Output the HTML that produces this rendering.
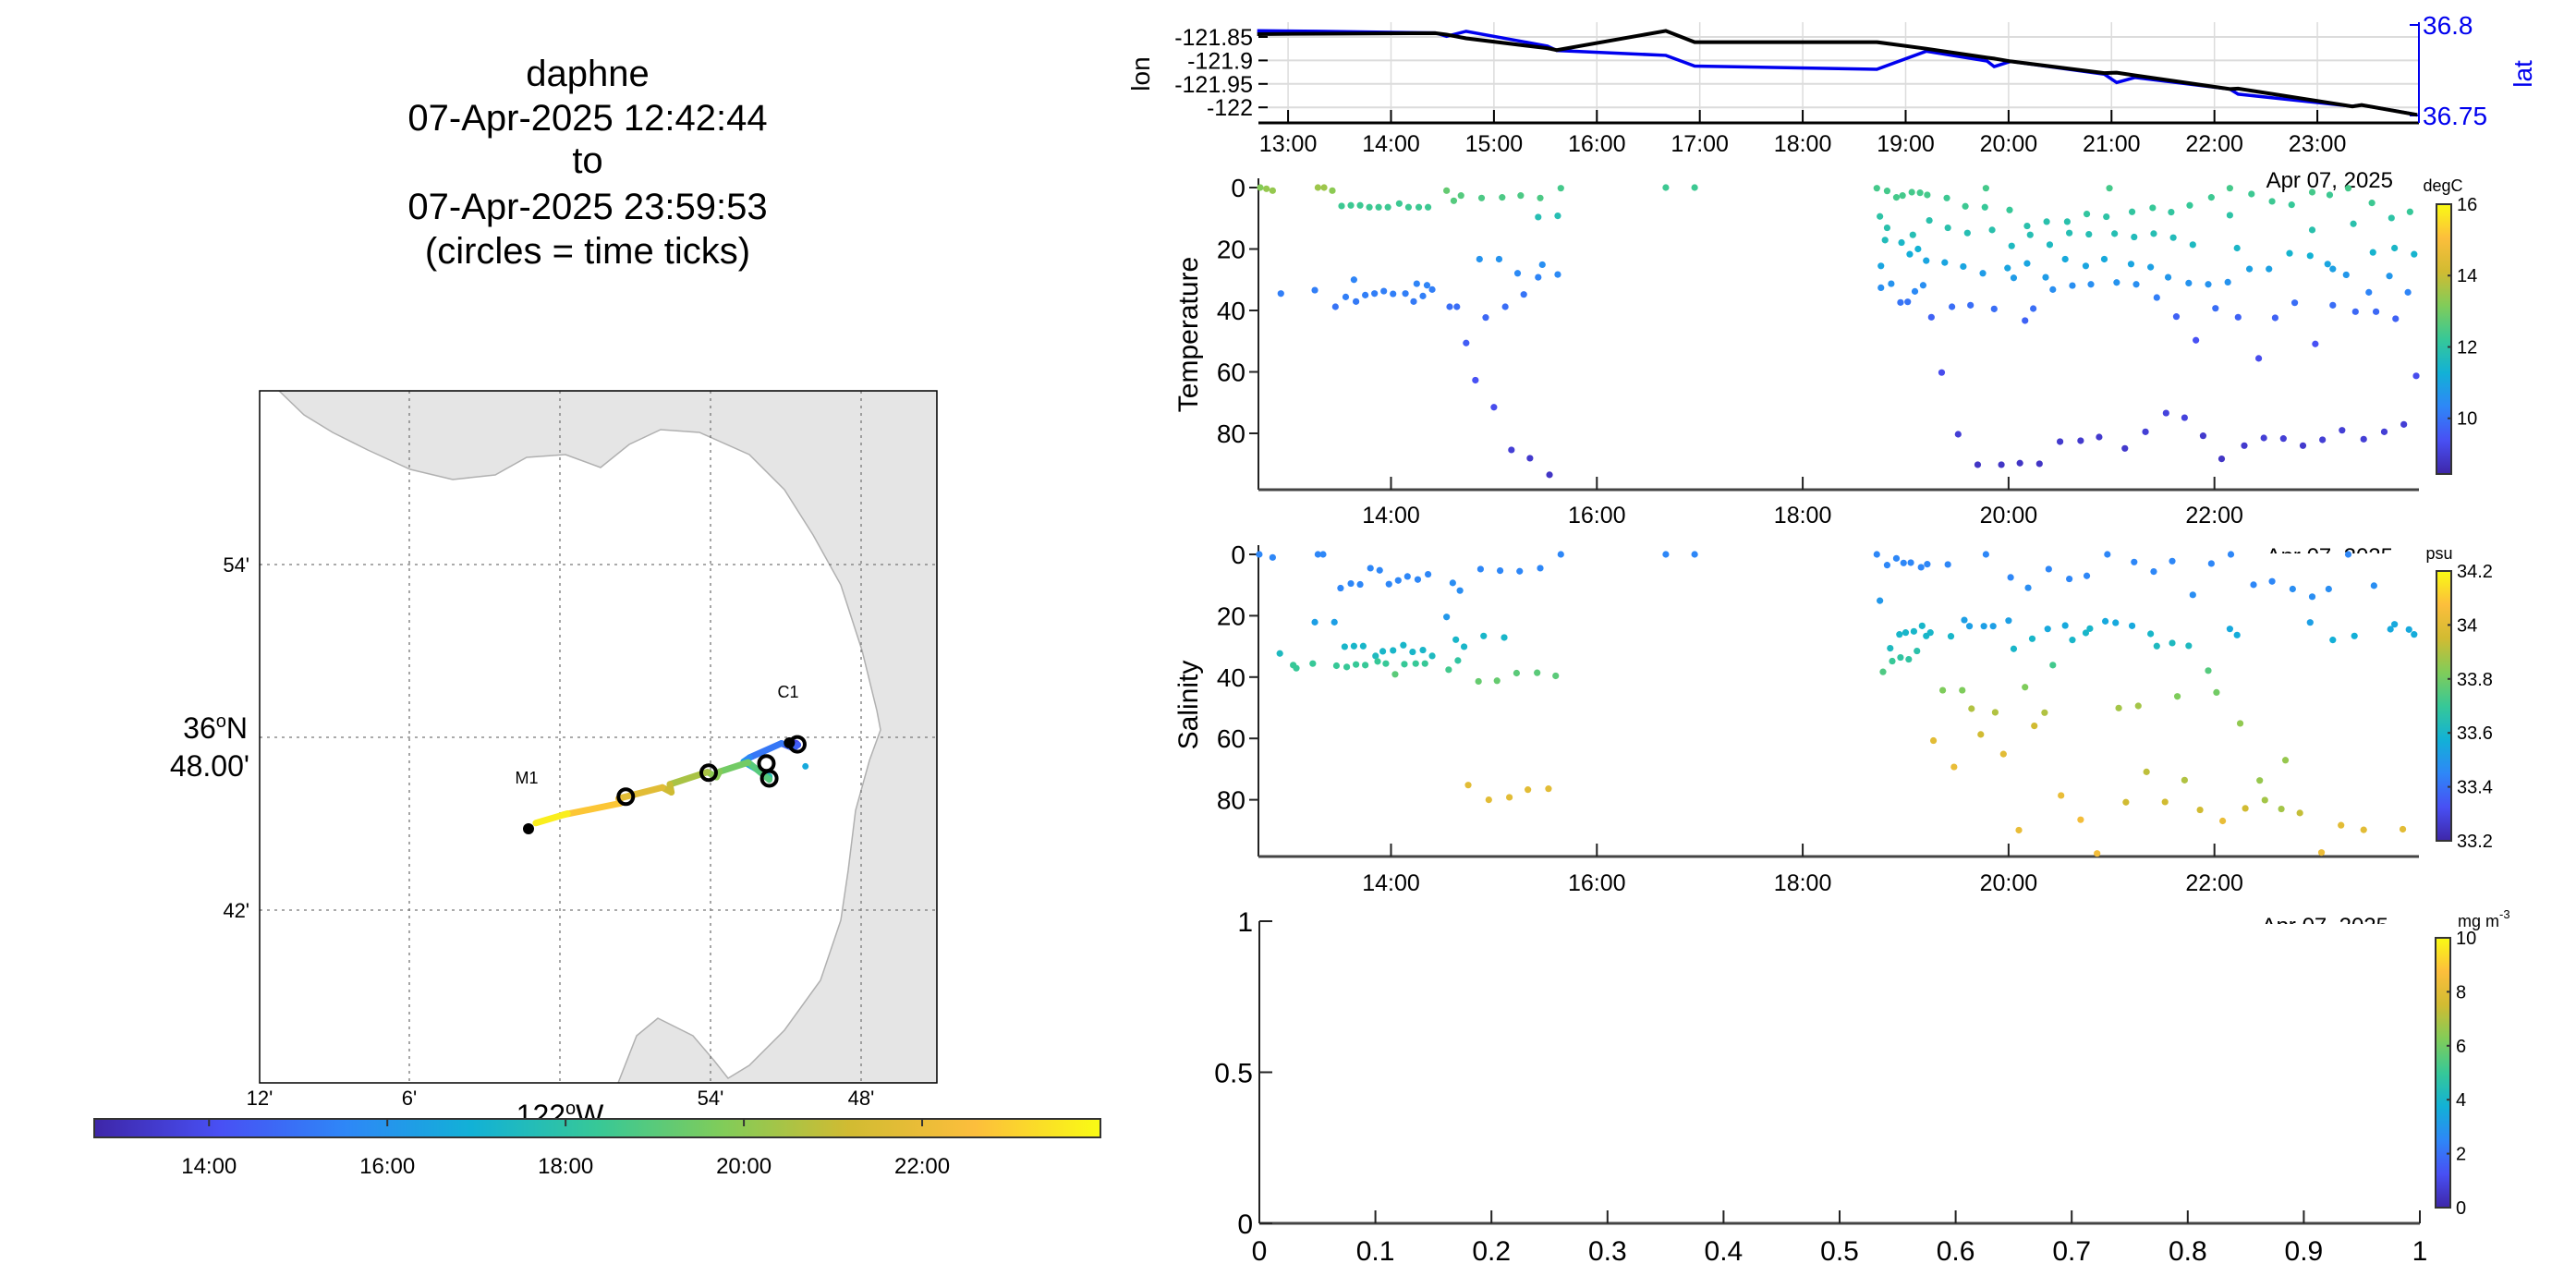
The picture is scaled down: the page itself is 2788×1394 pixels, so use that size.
<!DOCTYPE html>
<html><head><meta charset="utf-8"><style>
html,body{margin:0;padding:0;background:#fff;}
svg{display:block;font-family:"Liberation Sans",sans-serif;}
</style></head><body>
<svg id="fig" width="2788" height="1394" viewBox="0 0 2788 1394" xmlns="http://www.w3.org/2000/svg">
<defs>
<linearGradient id="parH" x1="0" x2="1" y1="0" y2="0"></linearGradient>
<linearGradient id="parV" x1="0" x2="0" y1="1" y2="0"></linearGradient>
<clipPath id="mapClip"><rect x="281" y="423" width="733" height="749"/></clipPath>
</defs>
<g font-size="40" text-anchor="middle" fill="#000">
<text x="636" y="93">daphne</text>
<text x="636" y="141">07-Apr-2025 12:42:44</text>
<text x="636" y="187">to</text>
<text x="636" y="237">07-Apr-2025 23:59:53</text>
<text x="636" y="285">(circles = time ticks)</text>
</g>
<g>
<rect x="281" y="423" width="733" height="749" fill="#fff"/>
<polygon clip-path="url(#mapClip)" fill="#e5e5e5" stroke="#b0b0b0" stroke-width="1.5" points="302,423 329,449 360,468 398,487 444,508 490,519 536,514 570,495 612,492 650,506 681,481 715,465 757,468 811,492 849,530 880,579 910,633 933,704 949,769 953,790 941,823 926,877 918,942 910,996 888,1061 849,1115 811,1153 788,1167 773,1148 750,1121 712,1102 689,1121 669,1172 1014,1172 1014,423"/>
<g stroke="#777" stroke-width="1.3" stroke-dasharray="3,5">
<line x1="443" y1="423" x2="443" y2="1172"/><line x1="606" y1="423" x2="606" y2="1172"/><line x1="769" y1="423" x2="769" y2="1172"/><line x1="932" y1="423" x2="932" y2="1172"/>
<line x1="281" y1="611" x2="1014" y2="611"/><line x1="281" y1="798" x2="1014" y2="798"/><line x1="281" y1="985" x2="1014" y2="985"/>
</g>
<rect x="281" y="423" width="733" height="749" fill="none" stroke="#000" stroke-width="1.5"/>
<g font-size="22" fill="#000" text-anchor="end">
<text x="270" y="619">54'</text>
<text x="270" y="993">42'</text>
<text x="268" y="799" font-size="32">36<tspan font-size="20" dy="-12">o</tspan><tspan dy="12">N</tspan></text>
<text x="270" y="840" font-size="32">48.00'</text>
</g>
<g font-size="22" fill="#000" text-anchor="middle">
<text x="281" y="1196">12'</text><text x="443" y="1196">6'</text><text x="769" y="1196">54'</text><text x="932" y="1196">48'</text>
<text x="606" y="1218" font-size="32">122<tspan font-size="20" dy="-12">o</tspan><tspan dy="12">W</tspan></text>
</g>
<text x="570" y="848" font-size="18" text-anchor="middle">M1</text>
<text x="853" y="755" font-size="18" text-anchor="middle">C1</text>
<g id="trackG"></g>
<circle cx="572" cy="897" r="6" fill="#000"/>
</g>
<g>
<rect x="102" y="1211" width="1089" height="20" fill="url(#parH)" stroke="#333" stroke-width="2"/>
<g id="timeCbTicks"></g>
</g>
<g>
<g id="llGrid"></g>
<line x1="1362" y1="133" x2="2618" y2="133" stroke="#000" stroke-width="3"/>
<line x1="2618" y1="24" x2="2618" y2="133" stroke="#0000ee" stroke-width="2"/>
<g id="llSeries"></g>
<text transform="translate(1244,80) rotate(-90)" font-size="28" text-anchor="middle">lon</text>
<text transform="translate(2740,80) rotate(-90)" font-size="28" text-anchor="middle" fill="#0000ee">lat</text>
</g>
<g>
<text x="2590" y="203" font-size="24" text-anchor="end">Apr 07, 2025</text>
<line x1="1362" y1="193" x2="1362" y2="530" stroke="#222" stroke-width="2"/>
<line x1="1362" y1="530" x2="2618" y2="530" stroke="#444" stroke-width="3"/>
<g id="tempG"></g>
<text transform="translate(1296,362) rotate(-90)" font-size="30" text-anchor="middle">Temperature</text>
<text x="2644" y="207" font-size="18" text-anchor="middle">degC</text>
<rect x="2637" y="221" width="16" height="292" fill="url(#parV)" stroke="#333" stroke-width="2"/>
<g id="tempCb"></g>
</g>
<g>
<text x="2590" y="610" font-size="24" text-anchor="end">Apr 07, 2025</text>
<rect x="2400" y="599" width="210" height="30" fill="#fff"/>
<line x1="1362" y1="590" x2="1362" y2="927" stroke="#222" stroke-width="2"/>
<line x1="1362" y1="927" x2="2618" y2="927" stroke="#444" stroke-width="3"/>
<g id="salG"></g>
<text transform="translate(1296,763) rotate(-90)" font-size="30" text-anchor="middle">Salinity</text>
<text x="2640" y="605" font-size="18" text-anchor="middle">psu</text>
<rect x="2637" y="618" width="16" height="292" fill="url(#parV)" stroke="#333" stroke-width="2"/>
<g id="salCb"></g>
</g>
<g>
<text x="2585" y="1010" font-size="24" text-anchor="end">Apr 07, 2025</text>
<rect x="2400" y="1000" width="200" height="30" fill="#fff"/>
<text x="2660" y="1003" font-size="18">mg m<tspan font-size="13" dy="-9">-3</tspan></text>
<line x1="1363" y1="997" x2="1363" y2="1324" stroke="#222" stroke-width="2"/>
<line x1="1363" y1="1324" x2="2619" y2="1324" stroke="#444" stroke-width="3"/>
<g id="chlAx"></g>
<rect x="2636" y="1015" width="16" height="292" fill="url(#parV)" stroke="#333" stroke-width="2"/>
<g id="chlCb"></g>
</g>
</svg>
<script>
const trackTime=[12.70,13.29,14.43,14.54,14.73,15.52,15.61,16.67,16.95,18.72,19.20,19.79,19.86,20.02,20.93,21.05,21.23,22.15,22.23,23.34,23.43,23.97];
const trackLon=[-121.844,-121.843,-121.842,-121.845,-121.853,-121.874,-121.878,-121.837,-121.861,-121.861,-121.875,-121.894,-121.896,-121.902,-121.927,-121.926,-121.932,-121.961,-121.960,-121.998,-121.995,-122.016];
const trackLat=[36.7968,36.7965,36.7956,36.7937,36.7965,36.7883,36.7859,36.7832,36.7773,36.7755,36.7855,36.7801,36.7770,36.7799,36.7728,36.7682,36.7710,36.7646,36.7618,36.7551,36.7558,36.7504];
const mapIsolatedTimes=[16.67];
const timeTickHours=[14,16,18,20,22];
const topTickHours=[13,14,15,16,17,18,19,20,21,22,23];
const lonTicks=[-121.85,-121.9,-121.95,-122];
const lonTickLabels=["-121.85","-121.9","-121.95","-122"];
const latTicks=[36.8,36.75];
const depthTicks=[0,20,40,60,80];
const tempCbTicks=[10,12,14,16];
const salCbTicks=[33.2,33.4,33.6,33.8,34,34.2];
const chlCbTicks=[0,2,4,6,8,10];
const chlXTicks=[0,0.1,0.2,0.3,0.4,0.5,0.6,0.7,0.8,0.9,1];
const chlYTicks=[0,0.5,1];
const tempTime=[12.73,12.79,12.85,13.29,13.35,13.43,13.52,13.61,13.70,13.79,13.88,13.97,14.08,14.17,14.27,14.36,14.54,14.61,14.68,14.88,15.08,15.26,15.45,15.65,15.43,15.62,16.67,16.95,
12.93,13.26,13.46,13.56,13.64,13.66,13.75,13.84,13.93,14.02,14.14,14.22,14.25,14.31,14.35,14.40,14.57,14.64,14.86,15.05,14.92,14.73,14.82,15.0,15.11,15.23,15.29,15.43,15.47,15.62,15.17,15.35,15.54,
18.72,18.82,18.91,18.97,19.06,19.14,19.21,19.40,19.58,19.78,19.77,20.01,20.98,22.15,22.36,22.56,22.75,22.95,23.12,23.30,23.53,23.90,23.72,21.97,21.76,21.58,21.40,21.20,20.95,20.76,20.57,20.37,20.18,22.15,23.35,18.75,19.23,
18.82,18.80,19.07,19.41,19.60,19.84,20.03,20.21,20.40,20.59,20.78,21.03,21.22,21.41,21.60,21.79,22.22,22.95,22.73,22.93,23.75,23.94,23.54,
18.76,18.96,19.04,19.12,19.20,19.38,19.56,19.75,19.99,20.05,20.18,20.36,20.55,20.75,20.93,21.19,21.38,21.55,21.75,21.94,22.13,22.34,22.53,23.10,23.15,23.28,23.70,18.76,18.86,19.17,19.09,20.43,20.62,20.80,21.05,21.24,21.44,23.50,23.88,
18.95,19.02,19.25,19.45,19.63,19.86,20.16,20.24,21.63,21.82,22.01,22.23,22.43,22.59,22.78,22.98,23.15,23.37,23.57,23.76,23.96,
19.35,19.51,19.70,19.93,20.11,20.30,20.50,20.70,20.88,21.13,21.33,21.53,21.71,21.89,22.07,22.29,22.48,22.67,22.86,23.05,23.24,23.45,23.65,23.84];
const tempDepth=[0,0.4,1,0,0,1,6,5.8,5.8,6.4,6.4,6.4,5.2,6.4,6.4,6.4,1,4.3,2.6,3.4,3.2,2.6,3.4,0.2,9.6,9.2,0,0,
34.5,33.4,38.8,35.6,30,37.1,35,34.5,33.7,34.6,34.5,37.1,31.3,35.3,31.8,33.2,38.8,38.8,23.3,23.3,42.3,50.6,62.7,71.5,38.8,27.9,34.8,29.2,25.1,28.3,85.4,88.1,93.5,
0.2,1.1,3.2,2.6,1.5,1.7,2.4,3.4,6.1,0.2,6.4,7.3,0.2,0.2,2.1,4.5,5.6,1.5,2.4,0.2,5.0,7.9,9.9,3.2,5.8,8.0,6.6,7.9,9.5,8.6,11.1,11.1,12.5,9.0,11.8,9.4,10.7,
13.1,17.1,15.4,13.1,14.8,13.8,19.0,15.4,18.6,14.8,15.2,15.0,16.1,15.0,16.3,18.6,19.7,13.8,21.4,22.2,19.7,21.7,21.1,
25.5,17.9,21.7,20.0,23.8,24.4,25.7,27.9,26.2,29.4,24.7,29.2,23.3,25.5,23.3,24.9,25.9,29.2,31.1,31.5,30.8,26.5,26.5,24.9,26.5,28.4,28.8,32.6,31.3,31.8,33.8,33.2,31.9,31.5,30.9,31.5,35.8,34.1,34.1,
37.4,37.2,42.2,38.8,38.3,39.5,43.3,39.4,42.0,49.7,39.3,42.2,55.6,42.4,37.5,50.9,38.3,40.4,40.4,42.7,61.3,
60.2,80.3,90.2,90.2,89.7,89.9,82.7,82.4,81.2,84.9,79.5,73.4,74.9,80.8,88.3,84.0,81.5,81.7,84.0,82.1,79.0,81.9,79.5,77.1];
const tempValue=[13.2,13.4,13.4,13.5,13.5,13.3,12.3,12.3,12.3,12.3,12.3,12.3,12.3,12.3,12.3,12.3,12.8,12.6,12.6,12.5,12.5,12.5,12.5,12.4,11.8,11.8,12.3,12.3,
10.2,10.2,10.0,10.2,10.3,10.1,10.2,10.2,10.2,10.2,10.2,10.1,10.3,10.2,10.3,10.2,9.9,9.9,10.6,10.6,9.8,9.6,9.4,9.3,9.9,10.4,10.0,10.3,10.5,10.4,9.0,8.9,8.8,
12.4,12.4,12.4,12.4,12.4,12.4,12.4,12.3,12.3,12.4,12.2,12.2,12.4,12.4,12.3,12.3,12.2,12.4,12.3,12.4,12.3,12.2,12.0,12.3,12.2,12.1,12.2,12.1,12.0,12.1,11.9,11.9,11.9,12.0,11.9,12.0,11.9,
11.9,11.7,11.8,11.9,11.8,11.9,11.6,11.8,11.6,11.8,11.8,11.8,11.7,11.8,11.7,11.6,11.5,11.9,11.4,11.3,11.5,11.4,11.4,
11.0,11.5,11.2,11.3,11.0,11.0,11.0,10.8,11.0,10.8,11.0,10.8,11.1,11.0,11.1,11.0,10.9,10.7,10.6,10.6,10.6,10.9,10.9,11.0,10.9,10.7,10.7,10.5,10.6,10.5,10.4,10.5,10.5,10.5,10.6,10.5,10.2,10.3,10.3,
10.0,10.0,9.7,9.9,9.9,9.9,9.7,9.9,9.7,9.4,9.9,9.7,9.3,9.7,9.9,9.4,9.9,9.8,9.8,9.7,9.3,
9.3,9.0,8.8,8.8,8.8,8.8,8.9,8.9,8.9,8.9,9.0,9.1,9.1,8.9,8.8,8.9,9.0,9.0,8.9,9.0,9.0,9.0,9.0,9.0];
const salTime=[12.72,12.85,13.29,13.34,15.65,16.67,16.95,18.72,19.78,20.96,22.16,23.30,
13.51,13.61,13.70,13.80,13.89,13.98,14.07,14.16,14.26,14.36,14.60,14.67,14.87,15.06,15.25,15.45,18.75,18.82,18.91,18.98,19.05,19.15,19.21,19.41,20.02,20.19,20.39,20.59,20.76,21.22,21.41,21.59,21.79,21.97,22.38,22.56,22.76,22.95,23.11,23.55,
13.26,13.45,14.54,19.57,19.62,19.76,19.85,20.00,20.38,20.55,20.94,21.04,21.20,22.15,22.22,22.93,23.75,23.71,23.89,23.94,23.15,23.36,
12.92,13.55,13.64,13.73,13.85,13.92,14.02,14.12,14.21,14.31,14.40,14.63,14.71,14.90,15.10,18.85,18.94,19.00,19.08,19.16,19.20,19.24,19.44,20.05,20.23,20.62,20.75,20.79,21.38,21.44,21.59,21.75,
13.05,13.08,13.24,13.47,13.57,13.66,13.75,13.87,13.95,14.13,14.24,14.33,14.56,14.65,18.78,18.87,18.95,19.03,19.11,20.43,
14.04,14.85,15.03,15.22,15.42,15.60,21.94,
19.36,19.55,20.16,21.64,22.02,22.25,22.69,
19.64,19.87,20.35,21.07,21.26,22.44,22.49,22.65,
19.73,20.25,21.34,21.71,21.14,21.52,21.86,22.30,22.83,
14.75,14.95,15.15,15.33,15.53,19.27,19.47,19.95,20.51,20.10,20.70,20.86,22.08,23.04,23.23,23.45,23.83];
const salDepth=[0,1.0,0,0,0,0,0,0,0,0,0,0,
11.0,9.5,9.8,4.5,5.2,9.7,8.5,7.2,8.2,6.5,9.3,11.8,4.8,5.3,5.5,4.5,15.1,3.5,1.3,2.8,2.7,4.2,3.2,3.3,7.5,10.9,4.8,8.0,7.0,2.5,5.6,2.2,13.2,3.0,9.9,8.8,11.3,13.8,11.3,10.2,
22.1,22.1,20.4,21.4,23.4,23.4,23.4,21.6,24.3,23.2,21.8,22.3,23.3,24.3,26.3,22.2,22.8,24.4,24.5,26.1,27.9,26.6,
32.3,30.1,29.9,29.9,33.1,31.6,31.3,29.6,31.8,31.2,33.1,27.8,30.1,26.6,27.1,30.6,26.1,25.5,25.1,23.3,26.6,25.5,26.7,30.8,27.5,27.9,25.6,24.2,25.9,29.9,28.9,29.8,
36.1,37.1,35.6,36.3,36.7,35.9,36.1,34.9,35.6,35.8,35.6,35.6,37.6,34.6,38.3,34.8,33.6,34.2,31.5,36.1,
39.1,41.4,41.2,38.7,38.6,39.6,37.9,
44.3,44.3,43.3,46.3,45.0,55.1,67.1,
50.3,51.5,51.6,50.1,49.4,73.7,80.1,83.0,
58.7,55.9,70.9,73.6,80.8,80.7,83.3,82.8,84.3,
75.2,80.0,79.2,76.7,76.4,60.7,69.3,65.1,78.6,89.9,86.5,97.5,86.9,97.2,88.3,89.8,89.6];
const salValue=[33.45,33.45,33.45,33.45,33.45,33.45,33.45,33.45,33.45,33.45,33.45,33.45,
33.45,33.45,33.45,33.45,33.45,33.45,33.45,33.45,33.45,33.45,33.47,33.47,33.45,33.45,33.45,33.45,33.5,33.45,33.45,33.45,33.45,33.45,33.45,33.45,33.45,33.47,33.45,33.45,33.45,33.45,33.45,33.45,33.47,33.45,33.45,33.45,33.47,33.47,33.47,33.47,
33.52,33.52,33.5,33.52,33.52,33.52,33.52,33.52,33.55,33.55,33.55,33.55,33.55,33.55,33.56,33.52,33.55,33.55,33.55,33.56,33.57,33.57,
33.62,33.6,33.6,33.6,33.62,33.6,33.6,33.6,33.6,33.6,33.62,33.6,33.6,33.6,33.6,33.62,33.6,33.6,33.6,33.6,33.6,33.6,33.6,33.6,33.6,33.6,33.6,33.6,33.6,33.62,33.62,33.62,
33.7,33.7,33.7,33.7,33.7,33.7,33.7,33.7,33.7,33.7,33.7,33.7,33.72,33.68,33.74,33.7,33.68,33.68,33.66,33.72,
33.76,33.78,33.78,33.76,33.76,33.76,33.75,
33.82,33.82,33.82,33.82,33.8,33.85,33.86,
33.9,33.9,33.9,33.88,33.88,33.86,33.88,33.88,
33.95,33.95,33.92,33.9,33.95,33.95,33.95,33.95,33.93,
34.0,34.0,34.0,34.0,34.0,34.0,34.02,34.0,34.02,34.02,34.05,34.05,34.02,34.03,34.0,34.0,34.0];

const T0=12.712;
function xT(t){return 1362+(t-T0)*111.4;}
function yLon(v){return 40+(-121.85-v)*508;}
function yLat(v){return 27+(36.8-v)*1960;}
function yTD(d){return 203+d*3.325;}
function ySD(d){return 600+d*3.32;}
function mx(lon){return 606+(lon+122)*60*27.17;}
function my(lat){return 798-(lat-36.8)*60*31.17;}
function xCbTime(t){return 102+(t-T0)/(24-T0)*1089;}
function yTempCb(v){return 513-(v-8.44)/(16-8.44)*292;}
function ySalCb(v){return 910-(v-33.2)/(1.0)*292;}
function yChlCb(v){return 1307-v/10*292;}
function xChl(v){return 1363+v*1256;}
function yChl(v){return 1324-v*327;}

const stops=[[0,62,38,168],[0.125,72,80,244],[0.25,46,135,247],[0.375,18,177,214],[0.5,55,200,151],[0.625,129,204,89],[0.75,209,187,50],[0.875,252,190,60],[1,249,251,20]];
function parula(f){f=Math.max(0,Math.min(1,f));for(let i=1;i<stops.length;i++){if(f<=stops[i][0]){const a=stops[i-1],b=stops[i],u=(f-a[0])/(b[0]-a[0]);return 'rgb('+[1,2,3].map(k=>Math.round(a[k]+(b[k]-a[k])*u)).join(',')+')';}}return 'rgb(249,251,20)';}
['parH','parV'].forEach(id=>{const g=document.getElementById(id);stops.forEach(s=>{const st=document.createElementNS('http://www.w3.org/2000/svg','stop');st.setAttribute('offset',s[0]);st.setAttribute('stop-color','rgb('+s[1]+','+s[2]+','+s[3]+')');g.appendChild(st);});});

const NS='http://www.w3.org/2000/svg';
function el(tag,parent){const e=document.createElementNS(NS,tag);document.getElementById(parent).appendChild(e);return e;}
function fmtH(h){return (h<10?'0':'')+h+':00';}
function interp(arr,t){for(let i=1;i<trackTime.length;i++){if(t<=trackTime[i]){const u=(t-trackTime[i-1])/(trackTime[i]-trackTime[i-1]);return arr[i-1]+(arr[i]-arr[i-1])*u;}}return arr[arr.length-1];}

// map track (isolated fixes drawn as small dots)
const trackIdx=[];
trackTime.forEach((t,i)=>{if(mapIsolatedTimes.indexOf(t)<0)trackIdx.push(i);});
for(let k=1;k<trackIdx.length;k++){
  const a=trackIdx[k-1],b=trackIdx[k];
  const s=el('line','trackG');
  s.setAttribute('x1',mx(trackLon[a]));s.setAttribute('y1',my(trackLat[a]));
  s.setAttribute('x2',mx(trackLon[b]));s.setAttribute('y2',my(trackLat[b]));
  s.setAttribute('stroke',parula(((trackTime[a]+trackTime[b])/2-T0)/(24-T0)));
  s.setAttribute('stroke-width','7');s.setAttribute('stroke-linecap','round');
  
  
}
trackTime.forEach((t,i)=>{
  if(mapIsolatedTimes.indexOf(t)<0)return;
  const d=el('circle','trackG');d.setAttribute('cx',mx(trackLon[i]));d.setAttribute('cy',my(trackLat[i]));d.setAttribute('r','3.5');d.setAttribute('fill',parula((t-T0)/(24-T0)));
  
  
});
{const d=el('circle','trackG');d.setAttribute('cx',mx(trackLon[0])-6);d.setAttribute('cy',my(trackLat[0]));d.setAttribute('r','6');d.setAttribute('fill','#000');

}
timeTickHours.forEach(h=>{
  const c=el('circle','trackG');
  c.setAttribute('cx',mx(interp(trackLon,h)));c.setAttribute('cy',my(interp(trackLat,h)));
  c.setAttribute('r','8');c.setAttribute('fill','none');c.setAttribute('stroke','#000');c.setAttribute('stroke-width','4');
  
  
});
timeTickHours.forEach(h=>{
  const x=xCbTime(h);
  const l=el('line','timeCbTicks');l.setAttribute('x1',x);l.setAttribute('x2',x);l.setAttribute('y1',1211);l.setAttribute('y2',1219);l.setAttribute('stroke','#333');l.setAttribute('stroke-width','2');
  
  
  const t=el('text','timeCbTicks');t.setAttribute('x',x);t.setAttribute('y',1270);t.setAttribute('font-size','24');t.setAttribute('text-anchor','middle');t.textContent=fmtH(h);
  
  
});
topTickHours.forEach(h=>{
  const x=xT(h);
  const g=el('line','llGrid');g.setAttribute('x1',x);g.setAttribute('x2',x);g.setAttribute('y1',24);g.setAttribute('y2',133);g.setAttribute('stroke','#dcdcdc');g.setAttribute('stroke-width','1.5');
  
  
  const k=el('line','llGrid');k.setAttribute('x1',x);k.setAttribute('x2',x);k.setAttribute('y1',119);k.setAttribute('y2',133);k.setAttribute('stroke','#000');k.setAttribute('stroke-width','2');
  
  
  const t=el('text','llGrid');t.setAttribute('x',x);t.setAttribute('y',164);t.setAttribute('font-size','25');t.setAttribute('text-anchor','middle');t.textContent=fmtH(h);
  
  
});
lonTicks.forEach((v,i)=>{
  const y=yLon(v);
  const g=el('line','llGrid');g.setAttribute('x1',1362);g.setAttribute('x2',2618);g.setAttribute('y1',y);g.setAttribute('y2',y);g.setAttribute('stroke','#dcdcdc');g.setAttribute('stroke-width','2');
  
  
  const k=el('line','llGrid');k.setAttribute('x1',1362);k.setAttribute('x2',1372);k.setAttribute('y1',y);k.setAttribute('y2',y);k.setAttribute('stroke','#000');k.setAttribute('stroke-width','2');
  
  
  const t=el('text','llGrid');t.setAttribute('x',1356);t.setAttribute('y',y+9);t.setAttribute('font-size','25');t.setAttribute('text-anchor','end');t.textContent=lonTickLabels[i];
  
  
});
latTicks.forEach(v=>{
  const y=yLat(v);
  const k=el('line','llGrid');k.setAttribute('x1',2608);k.setAttribute('x2',2618);k.setAttribute('y1',y);k.setAttribute('y2',y);k.setAttribute('stroke','#0000ee');k.setAttribute('stroke-width','2');
  
  
  const t=el('text','llGrid');t.setAttribute('x',2622);t.setAttribute('y',y+10);t.setAttribute('font-size','28');t.setAttribute('fill','#0000ee');t.textContent=String(v);
  
  
});
{const p=el('polyline','llSeries');p.setAttribute('points',trackTime.map((t,i)=>xT(t)+','+yLat(trackLat[i])).join(' '));p.setAttribute('fill','none');p.setAttribute('stroke','#0000ee');p.setAttribute('stroke-width','3.5');


const q=el('polyline','llSeries');q.setAttribute('points',trackTime.map((t,i)=>xT(t)+','+yLon(trackLon[i])).join(' '));q.setAttribute('fill','none');q.setAttribute('stroke','#000');q.setAttribute('stroke-width','4');

}

function profAxes(gid,yf,bottom,labY,prefix){
  depthTicks.forEach(d=>{
    const y=yf(d);
    const k=el('line',gid);k.setAttribute('x1',1352);k.setAttribute('x2',1362);k.setAttribute('y1',y);k.setAttribute('y2',y);k.setAttribute('stroke','#222');k.setAttribute('stroke-width','2');
    
    
    const t=el('text',gid);t.setAttribute('x',1348);t.setAttribute('y',y+10);t.setAttribute('font-size','28');t.setAttribute('text-anchor','end');t.textContent=String(d);
    
    
  });
  [14,16,18,20,22].forEach(h=>{
    const x=xT(h);
    const k=el('line',gid);k.setAttribute('x1',x);k.setAttribute('x2',x);k.setAttribute('y1',bottom-14);k.setAttribute('y2',bottom);k.setAttribute('stroke','#222');k.setAttribute('stroke-width','2');
    
    
    const t=el('text',gid);t.setAttribute('x',x);t.setAttribute('y',labY);t.setAttribute('font-size','25');t.setAttribute('text-anchor','middle');t.textContent=fmtH(h);
    
    
  });
}
profAxes('tempG',yTD,530,566,'temperature');
profAxes('salG',ySD,927,964,'salinity');
tempTime.forEach((t,i)=>{
  const c=el('circle','tempG');c.setAttribute('cx',xT(t));c.setAttribute('cy',yTD(tempDepth[i]));c.setAttribute('r','3.6');c.setAttribute('fill',parula((tempValue[i]-8.44)/(16-8.44)));
  
  
});
salTime.forEach((t,i)=>{
  const c=el('circle','salG');c.setAttribute('cx',xT(t));c.setAttribute('cy',ySD(salDepth[i]));c.setAttribute('r','3.6');c.setAttribute('fill',parula((salValue[i]-33.2)/1.0));
  
  
});
function cbTicks(gid,ticks,yf,x,prefix){
  ticks.forEach(v=>{
    const y=yf(v);
    const k=el('line',gid);k.setAttribute('x1',x+12);k.setAttribute('x2',x+16);k.setAttribute('y1',y);k.setAttribute('y2',y);k.setAttribute('stroke','#333');k.setAttribute('stroke-width','2');
    
    
    const t=el('text',gid);t.setAttribute('x',x+22);t.setAttribute('y',y+7);t.setAttribute('font-size','20');t.textContent=String(v);
    
    
  });
}
cbTicks('tempCb',tempCbTicks,yTempCb,2637,'temperature');
cbTicks('salCb',salCbTicks,ySalCb,2637,'salinity');
cbTicks('chlCb',chlCbTicks,yChlCb,2636,'chl');
chlXTicks.forEach(v=>{
  const x=xChl(v);
  const k=el('line','chlAx');k.setAttribute('x1',x);k.setAttribute('x2',x);k.setAttribute('y1',1310);k.setAttribute('y2',1324);k.setAttribute('stroke','#222');k.setAttribute('stroke-width','2');
  
  
  const t=el('text','chlAx');t.setAttribute('x',x);t.setAttribute('y',1364);t.setAttribute('font-size','30');t.setAttribute('text-anchor','middle');t.textContent=String(v);
  
  
});
chlYTicks.forEach(v=>{
  const y=yChl(v);
  const k=el('line','chlAx');k.setAttribute('x1',1363);k.setAttribute('x2',1377);k.setAttribute('y1',y);k.setAttribute('y2',y);k.setAttribute('stroke','#222');k.setAttribute('stroke-width','2');
  
  
  const t=el('text','chlAx');t.setAttribute('x',1356);t.setAttribute('y',y+11);t.setAttribute('font-size','30');t.setAttribute('text-anchor','end');t.textContent=String(v);
  
  
});
</script>
</body></html>
